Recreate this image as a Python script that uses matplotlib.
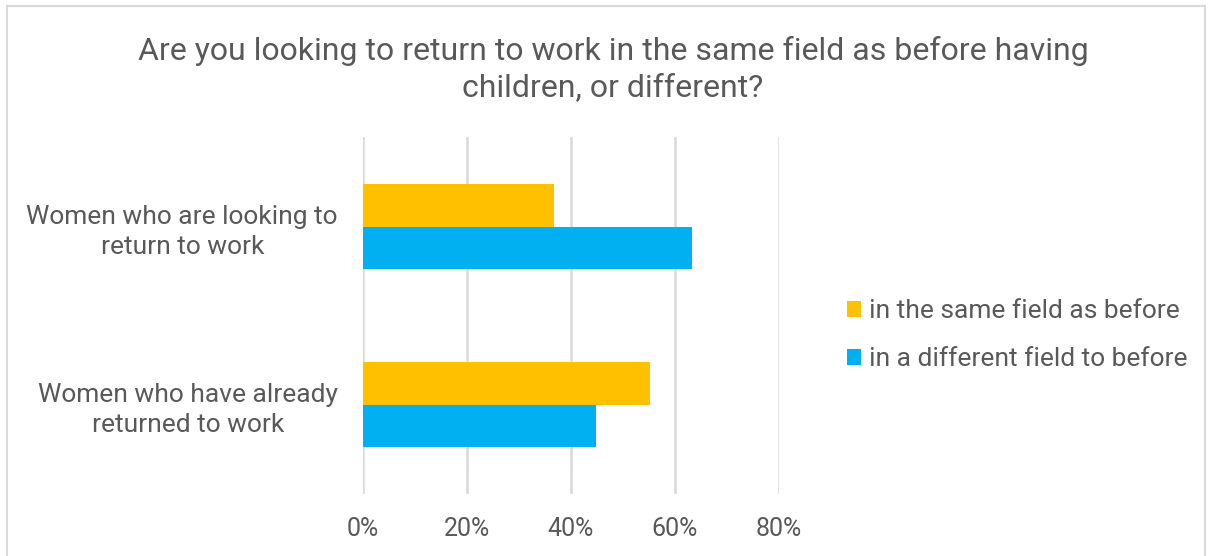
import matplotlib
matplotlib.use("Agg")
import matplotlib.pyplot as plt
from matplotlib.patches import Rectangle
import numpy as np

# survey answers (share of respondents)
categories = ["Women who have already\nreturned to work", "Women who are looking to\nreturn to work"]
same_field = [0.552, 0.368]
different_field = [0.448, 0.633]
series_names = ["in the same field as before", "in a different field to before"]
x_ticks = [0, 0.2, 0.4, 0.6, 0.8]
x_tick_labels = ["0%", "20%", "40%", "60%", "80%"]

text_col = "#595959"
grid_col = "#d9d9d9"
yellow = "#ffc000"
blue = "#00b0f0"

plt.rcParams["font.family"] = ["Roboto", "DejaVu Sans"]

fig = plt.figure(figsize=(12.14, 5.56), dpi=100)
ax = fig.add_axes([0.299, 0.1124, 0.3427, 0.6403])

# chart border
fig.patches.append(Rectangle((7 / 1214, -0.1), 1198 / 1214, 1.1 - 6 / 556,
                             transform=fig.transFigure, fill=False,
                             edgecolor=grid_col, linewidth=1.5))

y = np.arange(len(categories))
h = 0.238
ax.barh(y + h / 2, same_field, height=h, color=yellow, label=series_names[0], zorder=3)
ax.barh(y - h / 2, different_field, height=h, color=blue, label=series_names[1], zorder=3)

ax.set_xlim(0, 0.8)
ax.set_ylim(-0.5, 1.5)
ax.set_xticks(x_ticks)
ax.set_xticklabels(x_tick_labels, fontsize=18, color=text_col)
ax.set_yticks(y)
ax.set_yticklabels(categories, fontsize=19, color=text_col, multialignment="center",
                   linespacing=1.32)
ax.tick_params(axis="x", length=0, pad=17)
ax.tick_params(axis="y", length=0, pad=18)
ax.grid(axis="x", color=grid_col, linewidth=1.8, zorder=0)
for s in ax.spines.values():
    s.set_visible(False)

fig.text(0.505, 0.876, "Are you looking to return to work in the same field as before having\nchildren, or different?",
         ha="center", va="center", fontsize=23, color=text_col, linespacing=1.3)

fig.legend(loc="center left", bbox_to_anchor=(0.678, 0.397), frameon=False,
           fontsize=19, labelcolor=text_col, handlelength=0.55, handleheight=0.55,
           handletextpad=0.3, labelspacing=0.9)

fig.savefig("out.png", dpi=100, facecolor="white")
